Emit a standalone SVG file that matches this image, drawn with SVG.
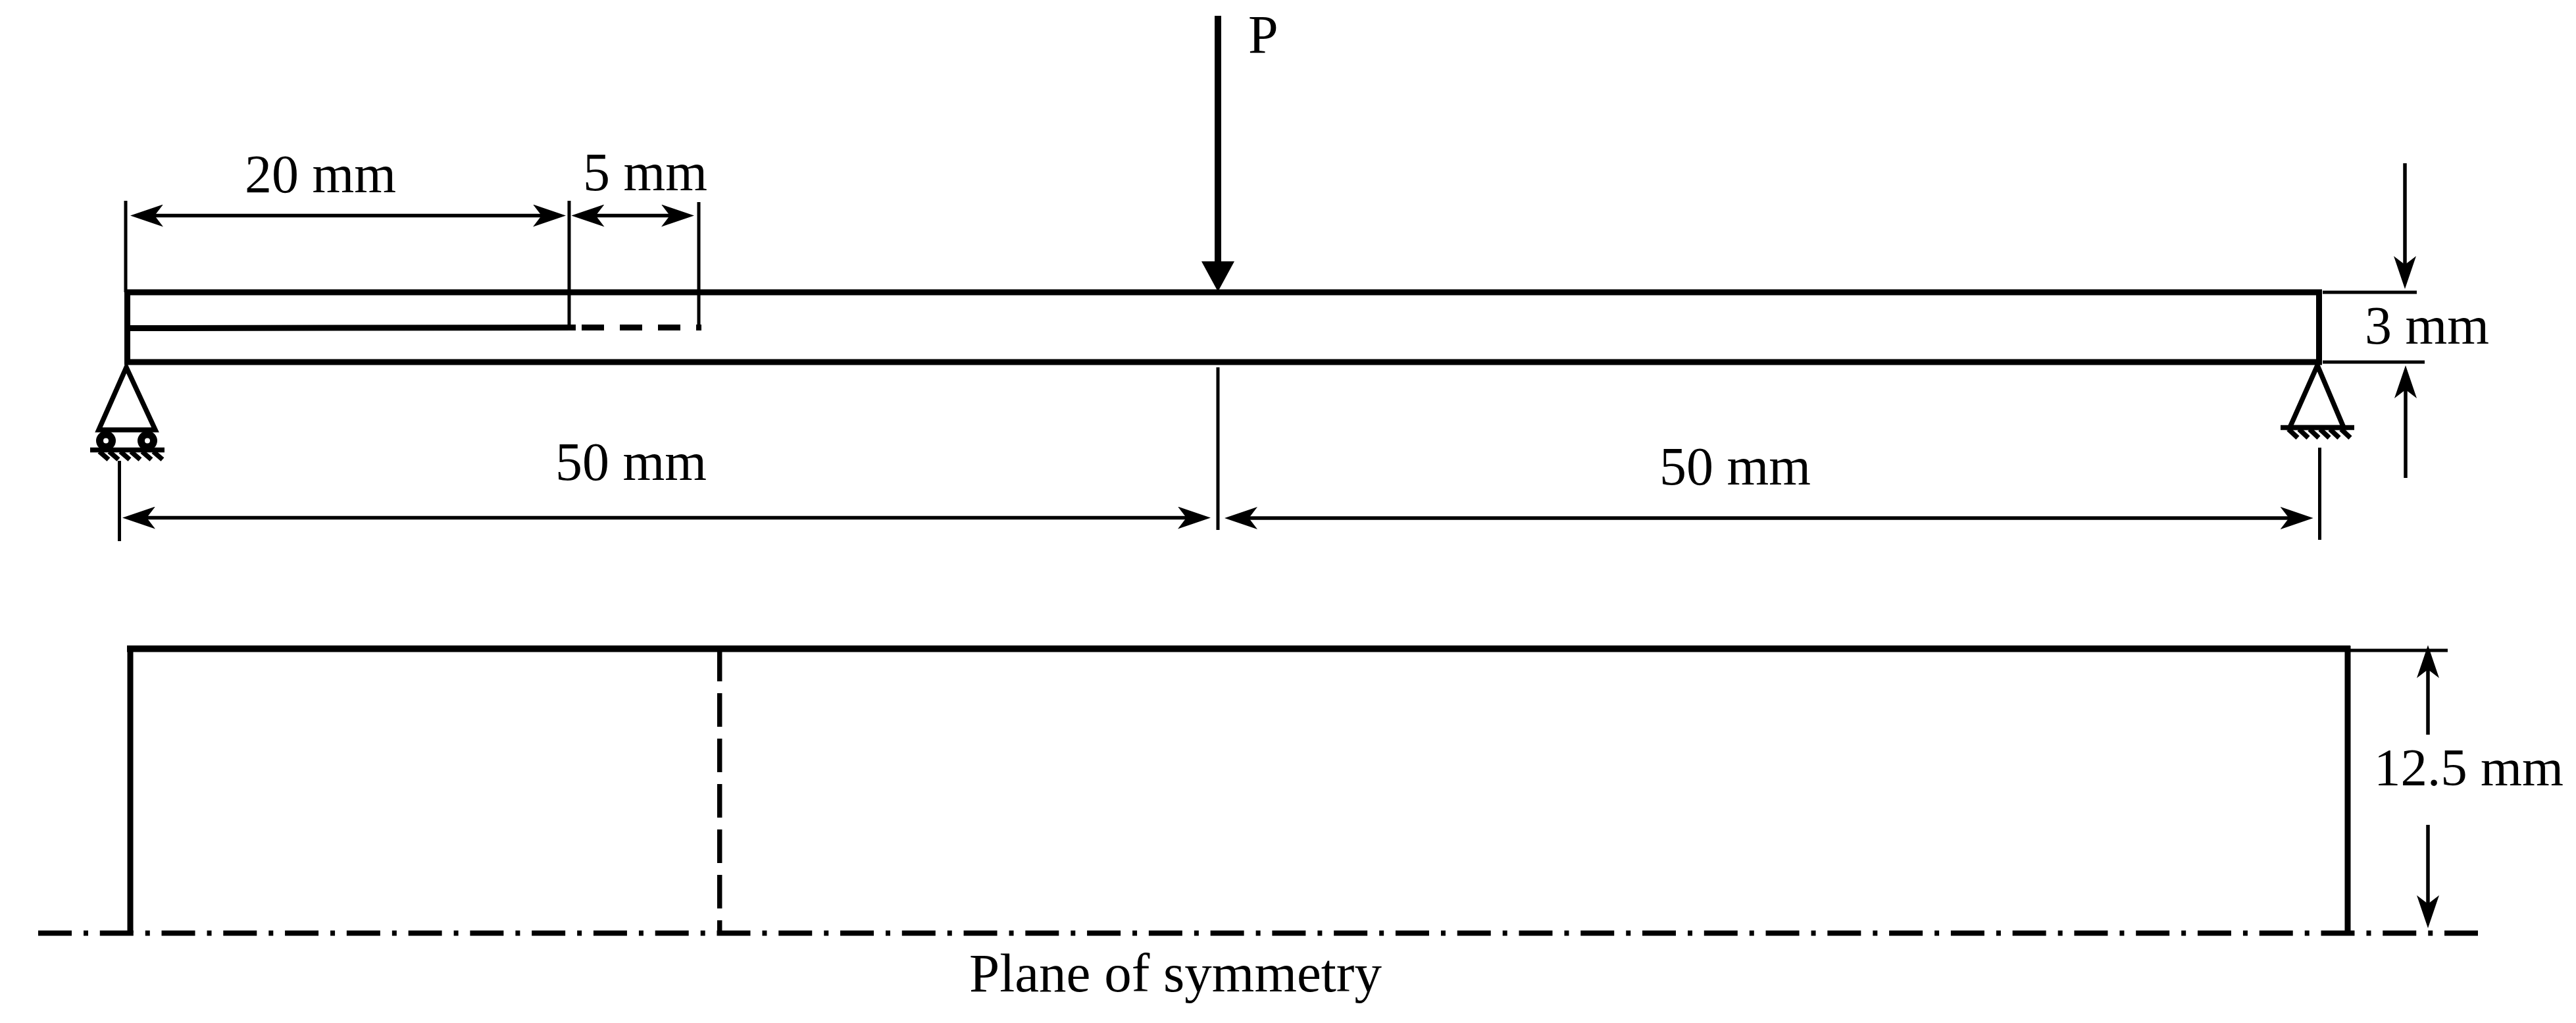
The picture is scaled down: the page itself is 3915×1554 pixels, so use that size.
<svg xmlns="http://www.w3.org/2000/svg" width="3915" height="1554" viewBox="0 0 3915 1554">
<style>
text{font-family:"Liberation Serif","Times New Roman",serif;font-size:82px;fill:#000}
.o{fill:none;stroke:#000;stroke-width:9}
.e{fill:none;stroke:#000;stroke-width:5}
.d{fill:none;stroke:#000;stroke-width:5.500;marker-start:url(#h);marker-end:url(#h)}
.s{fill:none;stroke:#000;stroke-width:5.500;marker-end:url(#h)}
.t{fill:none;stroke:#000;stroke-width:7.500}
</style>
<defs>
<marker id="h" markerUnits="userSpaceOnUse" viewBox="0 0 50 34" markerWidth="50" markerHeight="34" refX="25" refY="17" orient="auto-start-reverse"><path d="M0,0L50,17L0,34L13,17z" fill="#000"/></marker>
<marker id="p" markerUnits="userSpaceOnUse" viewBox="0 0 46 50" markerWidth="46" markerHeight="50" refX="10" refY="25" orient="auto"><path d="M0,0L46,25L0,50z" fill="#000"/></marker>
</defs>
<rect width="3915" height="1554" fill="#fff"/>
<g id="beam">
<rect class="o" x="193.500" y="444" width="3331" height="106"/>
<path class="o" d="M197,498.500L875,497.500"/>
<path class="o" d="M884,497.500H1066" stroke-dasharray="34 24"/>
</g>
<g id="roller-support">
<path class="t" d="M192,558L150,653H236Z"/>
<circle cx="161" cy="669.500" r="9.500" fill="#fff" stroke="#000" stroke-width="11"/>
<circle cx="224" cy="669.500" r="9.500" fill="#fff" stroke="#000" stroke-width="11"/>
<path d="M137,683.500H250" fill="none" stroke="#000" stroke-width="7.500"/>
<path class="t" d="M151,686L165,698M166,686L180,698M183,686L197,698M199,686L213,698M216,686L230,698M233,686L247,698"/>
</g>
<g id="pin-support">
<path class="t" d="M3522,555L3480,649.500H3562Z"/>
<path d="M3466,649.500H3578" fill="none" stroke="#000" stroke-width="7.500"/>
<path class="t" d="M3478,652L3492,665M3494,652L3508,665M3510,652L3524,665M3526,652L3540,665M3541,652L3555,665M3558,652L3572,665"/>
</g>
<g id="plan-view">
<path class="o" d="M198,1417V985.500H3568V1417"/>
<path d="M193,985.500H3572" fill="none" stroke="#000" stroke-width="10"/>
<path d="M1093.700,984V1417" fill="none" stroke="#000" stroke-width="7.500" stroke-dasharray="51 18"/>
<path d="M58,1417.500H3766" fill="none" stroke="#000" stroke-width="8" stroke-dasharray="51 18 7 17.770"/>
</g>
<g id="connectors">
<path class="e" d="M191,305V444M865,305V498M1062,307V498"/>
<path class="e" d="M181.500,700V822M1851,558V805M3525.500,680V820"/>
<path class="e" d="M3530,444H3673M3530,550H3685M3572,988H3720"/>
<path class="d" d="M223,327.500H835"/>
<path class="d" d="M893.500,327.500H1030"/>
<path class="d" d="M211,786.500H1815"/>
<path class="d" d="M1886,787H3490.700"/>
<path class="s" d="M3655,248V414"/>
<path class="s" d="M3656,726V580"/>
<path class="s" d="M3690,1116V1005"/>
<path class="s" d="M3690,1253V1385"/>
<path d="M1851,24V407" fill="none" stroke="#000" stroke-width="10" marker-end="url(#p)"/>
</g>
<g id="labels">
<text x="1897" y="80">P</text>
<text x="372" y="291.500">20 mm</text>
<text x="886" y="288.500">5 mm</text>
<text x="844" y="729">50 mm</text>
<text x="2522" y="736">50 mm</text>
<text x="3594" y="522">3 mm</text>
<text x="3608" y="1192.500" style="font-size:81px">12.5 mm</text>
<text x="1473" y="1506" style="font-size:83px">Plane of symmetry</text>
</g>
</svg>
